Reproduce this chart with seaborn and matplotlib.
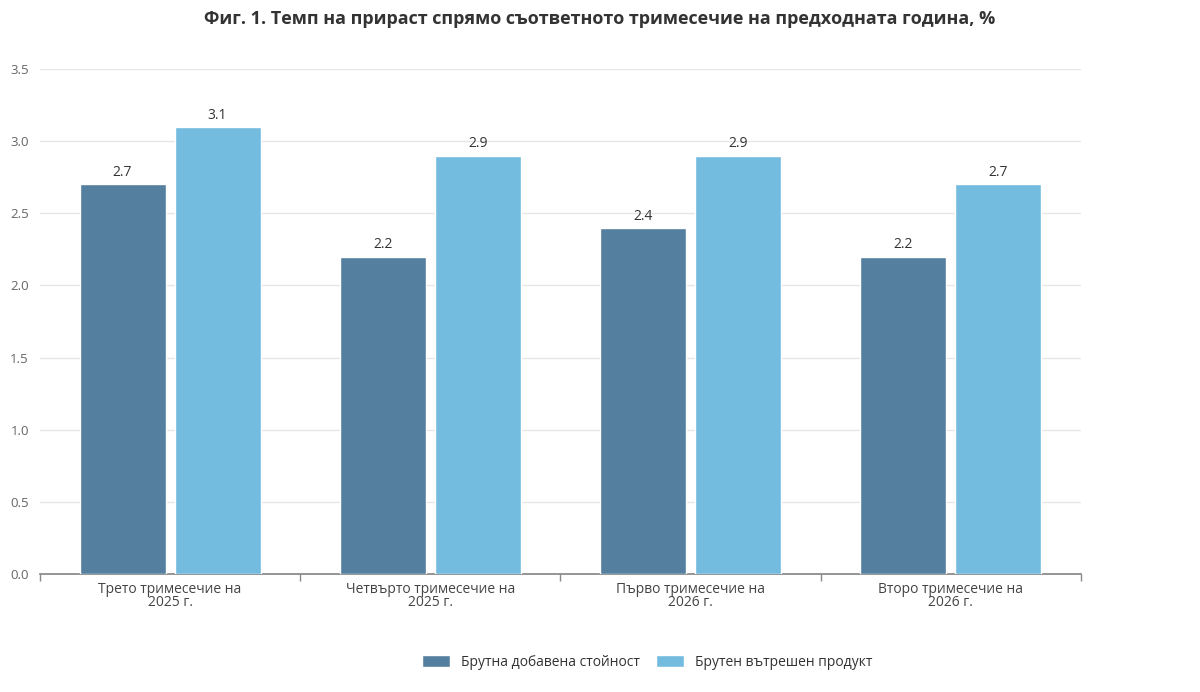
import matplotlib
matplotlib.use("Agg")
import matplotlib.pyplot as plt
import pandas as pd
import seaborn as sns

categories = ["Трето тримесечие на\n2025 г.", "Четвърто тримесечие на\n2025 г.",
              "Първо тримесечие на\n2026 г.", "Второ тримесечие на\n2026 г."]
series_names = ["Брутна добавена стойност", "Брутен вътрешен продукт"]
gva = [2.7, 2.2, 2.4, 2.2]
gdp = [3.1, 2.9, 2.9, 2.7]
colors = ["#557f9f", "#73bbdf"]

df = pd.DataFrame({
    "cat": categories * 2,
    "series": [series_names[0]] * 4 + [series_names[1]] * 4,
    "value": gva + gdp,
})

sns.set_theme(style="white")
plt.rcParams["font.family"] = ["Open Sans", "DejaVu Sans"]

fig = plt.figure(figsize=(12, 6.92), dpi=100)
ax = fig.add_axes([0.0333, 0.1705, 0.8675, 0.7298])
sns.barplot(data=df, x="cat", y="value", hue="series", palette=colors,
            width=0.73, gap=0.096, saturation=1, ax=ax, zorder=3)

for cont in ax.containers:
    ax.bar_label(cont, fmt="%.1f", padding=3, fontsize=10, color="#333333")

ax.set_ylim(0, 3.5)
ax.set_xlim(-0.5, 3.5)
ax.set_yticks([0, 0.5, 1, 1.5, 2, 2.5, 3, 3.5])
ax.set_yticklabels([f"{v:.1f}" for v in [0, 0.5, 1, 1.5, 2, 2.5, 3, 3.5]],
                   fontsize=9.5, color="#666666")
ax.yaxis.grid(True, color="#e6e6e6", lw=1, zorder=0)
ax.tick_params(axis="y", length=0, pad=8)
ax.set_xticks([0, 1, 2, 3])
ax.set_xticklabels(categories, fontsize=10, color="#444444", linespacing=0.8)
ax.set_xticks([-0.5, 0.5, 1.5, 2.5, 3.5], minor=True)
ax.tick_params(axis="x", which="major", length=0, pad=6)
ax.tick_params(axis="x", which="minor", length=5, color="#888888", bottom=True)
ax.set_xlabel("")
ax.set_ylabel("")
for s in ["top", "right", "left"]:
    ax.spines[s].set_visible(False)
ax.spines["bottom"].set_color("#888888")

ax.legend(loc="upper center", bbox_to_anchor=(0.5833, -0.135), ncol=2,
          frameon=False, fontsize=10, handlelength=2.0, handleheight=1.0,
          columnspacing=1.2, labelcolor="#333333", bbox_transform=fig.transFigure
          if False else ax.transAxes)
fig.text(0.5, 0.972, "Фиг. 1. Темп на прираст спрямо съответното тримесечие на предходната година, %",
         ha="center", va="center", fontsize=13, fontweight="bold", color="#333333")

fig.savefig("out.png", dpi=100)
